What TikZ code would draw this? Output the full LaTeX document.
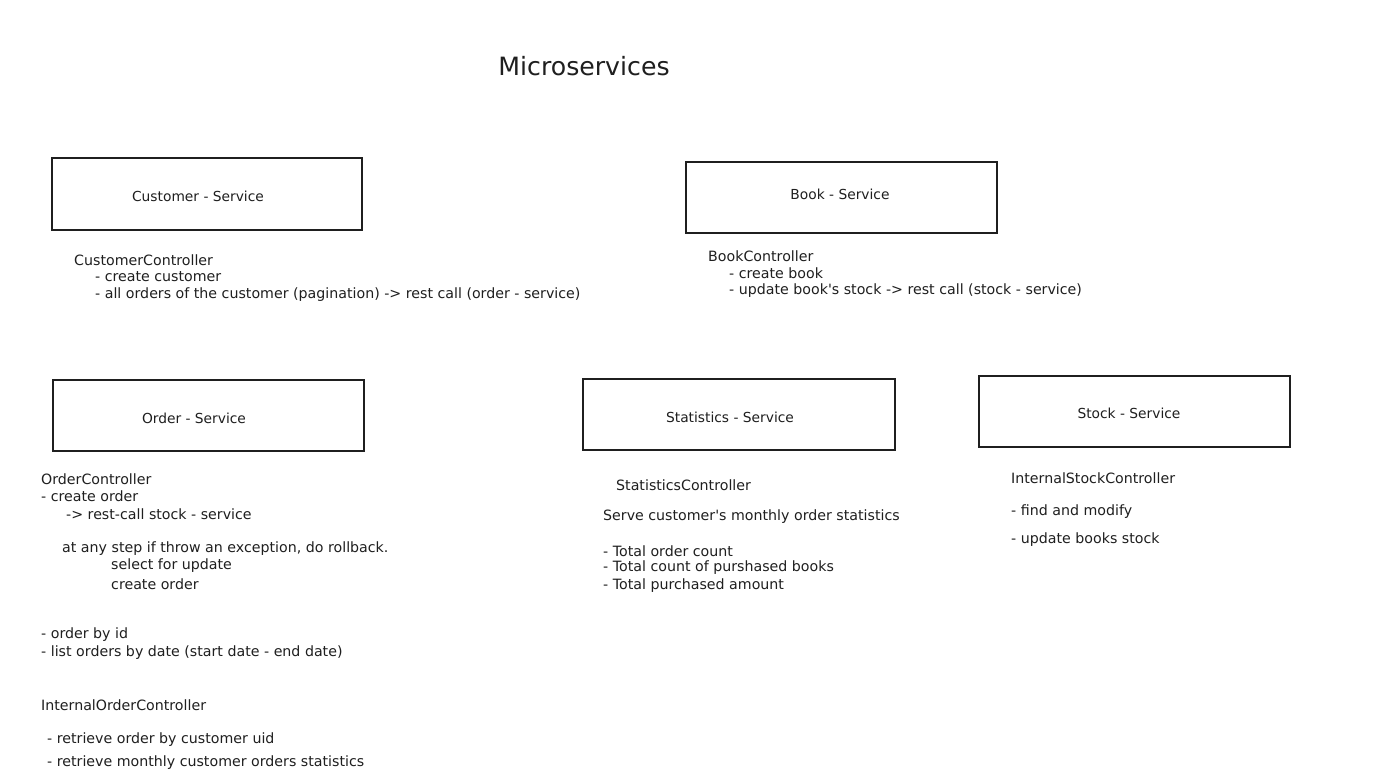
\documentclass[tikz,border=0pt]{standalone}
\usepackage{fontspec}
\setmainfont{DejaVu Sans}[Ligatures=TeXOff]
\begin{document}
\begin{tikzpicture}[x=1pt,y=-1pt,
  svcbox/.style={draw=black!88, line width=1.2pt},
  svclabel/.style={font=\fontsize{13.8}{16}\selectfont, text=black!88, inner sep=0pt},
  txt/.style={font=\fontsize{14.2}{16}\selectfont, text=black!88, anchor=west, inner sep=0pt},
  ttl/.style={font=\fontsize{25.2}{30}\selectfont, text=black!88, inner sep=0pt}]
\useasboundingbox (0,0) rectangle (1387,779);
\fill[white] (0,0) rectangle (1387,779);

\node[ttl] (title) at (584,66) {Microservices};

% boxes
\draw[svcbox] (52,158) rectangle (362,230);
\node[svclabel] (cust) at (198,196) {Customer - Service};
\draw[svcbox] (686,162) rectangle (997,233);
\node[svclabel] (book) at (840,194) {Book - Service};
\draw[svcbox] (53,380) rectangle (364,451);
\node[svclabel] (order) at (194,418) {Order - Service};
\draw[svcbox] (583,379) rectangle (895,450);
\node[svclabel] (stat) at (730,417) {Statistics - Service};
\draw[svcbox] (979,376) rectangle (1290,447);
\node[svclabel] (stock) at (1129,413) {Stock - Service};

% customer
\node[txt] (c1) at (74,260) {CustomerController};
\node[txt] (c2) at (95,277) {- create customer};
\node[txt] (c3) at (95,295) {- all orders of the customer (pagination) -> rest call (order - service)};

% book
\node[txt] (b1) at (708,256) {BookController};
\node[txt] (b2) at (729,273) {- create book};
\node[txt] (b3) at (729,291) {- update book's stock -> rest call (stock - service)};

% order
\node[txt] (o1) at (41,479) {OrderController};
\node[txt] (o2) at (41,496) {- create order};
\node[txt] (o3) at (66,514) {-> rest-call stock - service};
\node[txt] (o4) at (62,549) {at any step if throw an exception, do rollback.};
\node[txt] (o5) at (111,566) {select for update};
\node[txt] (o6) at (111,584) {create order};
\node[txt] (o7) at (41,635) {- order by id};
\node[txt] (o8) at (41,653) {- list orders by date (start date - end date)};
\node[txt] (o9) at (41,705) {InternalOrderController};
\node[txt] (o10) at (47,740) {- retrieve order by customer uid};
\node[txt] (o11) at (47,763) {- retrieve monthly customer orders statistics};

% statistics
\node[txt] (s1) at (616,485) {StatisticsController};
\node[txt] (s2) at (603,517) {Serve customer's monthly order statistics};
\node[txt] (s3) at (603,551) {- Total order count};
\node[txt] (s4) at (603,568) {- Total count of purshased books};
\node[txt] (s5) at (603,586) {- Total purchased amount};

% stock
\node[txt] (k1) at (1011,478) {InternalStockController};
\node[txt] (k2) at (1011,512) {- find and modify};
\node[txt] (k3) at (1011,540) {- update books stock};
\end{tikzpicture}
\end{document}
